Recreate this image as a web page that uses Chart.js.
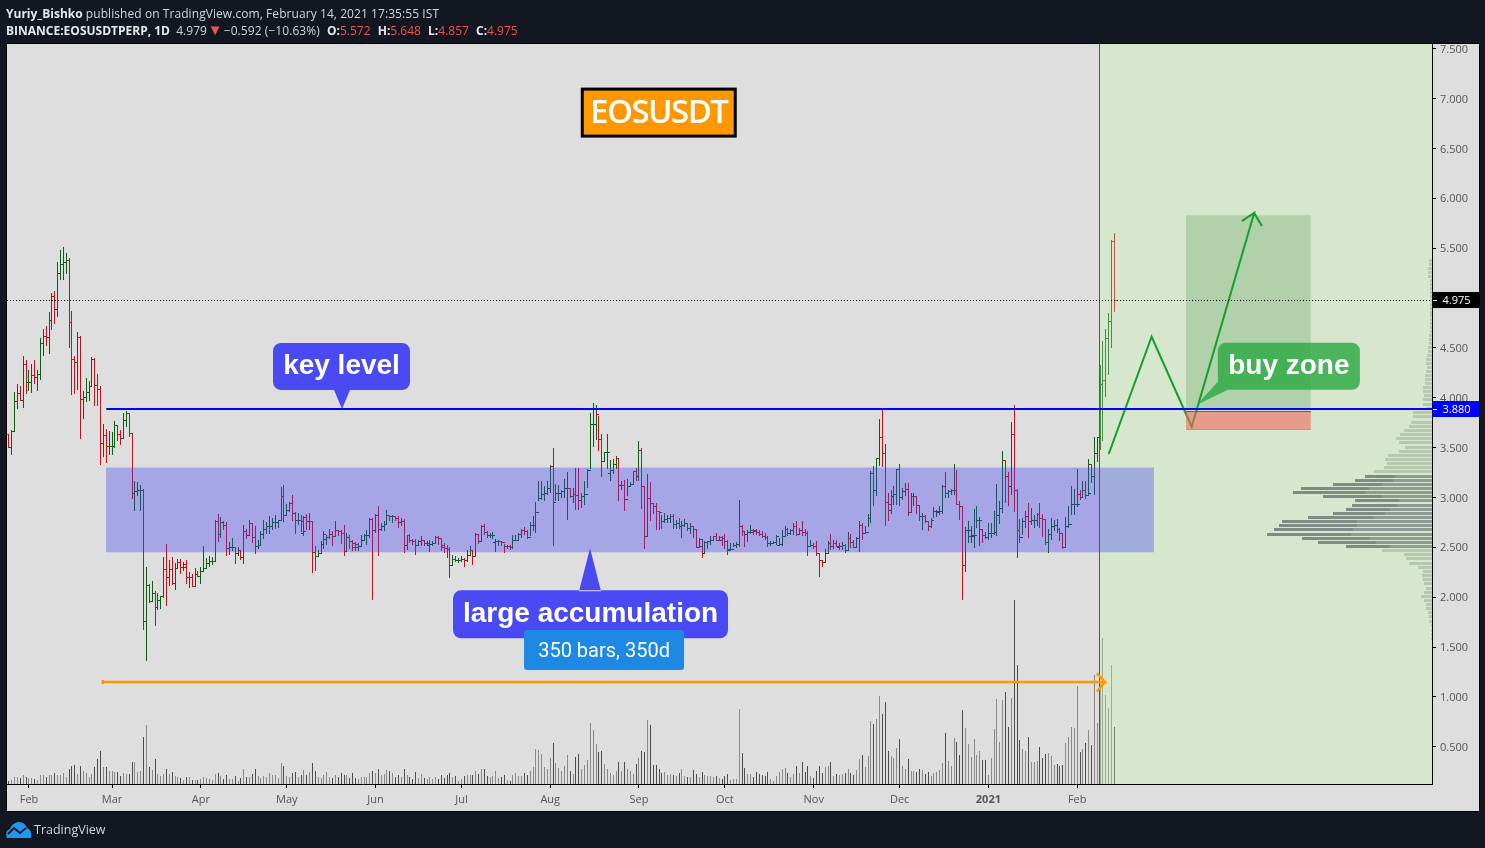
<!DOCTYPE html>
<html>
<head>
<meta charset="utf-8">
<title>EOSUSDT</title>
<script src="https://cdn.jsdelivr.net/npm/chart.js@4/dist/chart.umd.min.js"></script>
<style>
  html, body { margin: 0; padding: 0; background: #131722; width: 1485px; height: 848px; overflow: hidden; }
  canvas { position: absolute; left: 0; top: 0; }
  .txt { position: absolute; left: 6px; color: #d1d4dc; font: 12px "Open Sans", sans-serif; white-space: nowrap; }
  .txt b { color: #e6e8ee; font-weight: 700; }
  .txt i { font-style: normal; color: #ef5350; }
  .txt i.arrow { font-size: 15px; line-height: 12px; margin: 0 1px; }
  .txt b.lab { margin-left: 4px; }
  .txt span { letter-spacing: 0.07px; }
  #brand { left: 34px; top: 821px; font-size: 12.5px; color: #d1d4dc; }
  #logo { position: absolute; left: 6px; top: 821px; }
</style>
</head>
<body>
<canvas id="chart" width="1485" height="848"></canvas>
<div class="txt" style="top:5px"><b>Yuriy_Bishko</b> <span>published on TradingView.com, February 14, 2021 17:35:55 IST</span></div>
<div class="txt" style="top:22px"><b>BINANCE:EOSUSDTPERP, 1D</b>&nbsp; 4.979<i class="arrow">▼</i><span>−0.592 (−10.63%)</span> <b class="lab">O:</b><i>5.572</i> <b class="lab">H:</b><i>5.648</i> <b class="lab">L:</b><i>4.857</i> <b class="lab">C:</b><i>4.975</i></div>
<svg id="logo" width="26" height="17" viewBox="0 0 26 17">
  <path d="M1 17 C-1 12 1 9 4 8 C6 3 10 1 13 1 C17 1 20 4 21 7 C24 8 26 11 25 17 Z" fill="#2196f3"/>
  <path d="M2 13 L8 7 L14 12 L20 7" fill="none" stroke="#131722" stroke-width="2"/>
</svg>
<div class="txt" id="brand">TradingView</div>
<script>
// days counted from 1 Feb 2020, first bar is 25 Jan 2020
const firstDay = -7;

const highs = [
  3.63,3.68,4.06,4.14,4.12,4.42,4.38,
  4.28,4.34,4.38,4.28,4.60,4.69,4.72,4.86,5.05,5.07,
  5.36,5.48,5.51,5.45,5.40,4.87,4.42,4.66,4.62,4.07,
  4.20,4.17,4.41,4.40,4.24,4.12,3.74,3.69,3.67,3.66,
  3.77,3.73,3.68,3.85,3.87,3.84,3.64,3.17,3.15,3.12,
  3.08,2.30,2.13,2.16,2.06,2.04,2.01,2.40,2.53,2.37,
  2.40,2.34,2.38,2.38,2.35,2.37,2.25,2.23,2.29,2.26,
  2.30,2.51,2.39,2.41,2.40,2.77,2.83,2.80,2.76,2.75,
  2.55,2.59,2.50,2.50,2.47,2.72,2.68,2.77,2.74,2.71,
  2.57,2.66,2.77,2.75,2.81,2.79,2.82,2.77,3.10,3.12,
  2.93,2.95,3.02,2.85,2.84,2.82,2.81,2.83,2.84,2.76,
  2.51,2.47,2.56,2.66,2.62,2.68,2.66,2.76,2.67,2.67,
  2.72,2.64,2.62,2.57,2.55,2.54,2.62,2.63,2.67,2.79,
  2.79,2.83,2.91,2.74,2.76,2.87,2.82,2.82,2.81,2.81,
  2.79,2.78,2.62,2.63,2.58,2.58,2.57,2.61,2.57,2.56,
  2.57,2.56,2.61,2.61,2.59,2.54,2.52,2.50,2.42,2.41,
  2.39,2.41,2.39,2.47,2.51,2.47,2.64,2.63,2.72,2.73,
  2.66,2.64,2.65,2.58,2.57,2.56,2.53,2.52,2.52,2.62,
  2.62,2.64,2.68,2.70,2.67,2.75,2.81,2.95,3.17,3.16,
  3.11,3.17,3.33,3.50,3.13,3.12,3.07,3.19,3.26,3.09,
  3.09,3.30,3.30,3.04,3.16,3.29,3.85,3.95,3.93,3.82,
  3.64,3.46,3.64,3.38,3.39,3.42,3.40,3.17,3.18,3.19,
  3.15,3.27,3.30,3.57,3.50,3.11,3.24,3.15,2.94,2.94,
  2.86,2.82,2.84,2.82,2.83,2.83,2.77,2.79,2.76,2.78,
  2.74,2.74,2.71,2.67,2.59,2.58,2.56,2.56,2.61,2.61,
  2.64,2.61,2.61,2.63,2.57,2.54,2.54,2.55,2.97,2.72,
  2.66,2.67,2.72,2.68,2.68,2.67,2.66,2.64,2.61,2.56,
  2.56,2.62,2.59,2.67,2.71,2.69,2.68,2.74,2.76,2.69,
  2.76,2.68,2.66,2.57,2.54,2.56,2.44,2.37,2.48,2.56,
  2.63,2.57,2.57,2.54,2.55,2.53,2.65,2.63,2.57,2.60,
  2.76,2.74,2.71,2.83,3.27,3.32,3.40,3.79,3.88,3.54,
  3.04,3.07,3.11,3.29,3.34,3.09,3.14,3.14,3.04,3.04,
  3.00,2.91,2.84,2.82,2.76,2.79,2.90,2.87,2.91,3.12,
  3.26,3.07,3.08,3.34,3.28,2.96,2.91,2.70,2.76,2.71,
  2.88,2.91,2.80,2.68,2.65,2.74,2.74,2.86,3.13,2.96,
  3.47,3.37,3.26,3.76,3.93,3.08,2.78,2.79,2.86,2.94,
  2.89,2.82,2.84,2.94,2.83,2.78,2.68,2.79,2.77,2.78,
  2.69,2.64,2.80,2.91,3.11,3.08,3.29,3.07,3.16,3.16,
  3.39,3.34,3.61,3.61,4.33,4.57,4.69,4.85,5.58,5.648,
];
const lows = [
  3.50,3.43,3.66,3.89,3.97,3.90,4.04,
  4.07,4.05,4.14,4.07,4.18,4.42,4.52,4.44,4.68,4.74,
  4.81,5.18,5.18,5.24,4.50,4.03,4.04,4.08,3.59,3.79,
  3.96,3.97,4.11,3.92,3.92,3.33,3.41,3.35,3.43,3.43,
  3.50,3.57,3.53,3.60,3.71,3.61,2.98,2.86,3.01,2.86,
  1.67,1.36,1.94,1.95,1.71,1.87,1.88,1.99,1.91,2.11,
  2.12,2.07,2.29,2.23,2.26,2.13,2.09,2.10,2.11,2.20,
  2.13,2.26,2.28,2.30,2.32,2.35,2.55,2.59,2.67,2.41,
  2.42,2.46,2.33,2.41,2.37,2.33,2.58,2.62,2.54,2.43,
  2.48,2.51,2.58,2.63,2.63,2.67,2.68,2.69,2.77,2.75,
  2.82,2.85,2.76,2.63,2.72,2.65,2.61,2.67,2.67,2.24,
  2.26,2.40,2.44,2.48,2.52,2.58,2.51,2.61,2.61,2.53,
  2.41,2.45,2.48,2.46,2.46,2.46,2.51,2.57,2.52,2.59,
  1.97,2.64,2.41,2.66,2.66,2.72,2.76,2.74,2.76,2.69,
  2.71,2.44,2.47,2.54,2.52,2.42,2.52,2.51,2.51,2.51,
  2.45,2.51,2.53,2.52,2.46,2.44,2.39,2.19,2.31,2.35,
  2.34,2.35,2.30,2.35,2.41,2.32,2.41,2.53,2.55,2.62,
  2.59,2.59,2.58,2.45,2.51,2.51,2.44,2.48,2.47,2.48,
  2.56,2.57,2.59,2.62,2.58,2.61,2.66,2.64,2.96,2.97,
  2.96,3.02,3.04,2.51,2.96,2.96,2.99,2.99,2.77,2.99,
  2.94,2.87,2.87,2.89,2.92,3.09,3.29,3.51,3.58,3.47,
  3.21,3.36,3.29,3.17,3.24,3.29,2.96,3.07,2.86,3.01,
  3.11,3.13,3.16,3.16,2.88,2.48,2.61,2.76,2.83,2.67,
  2.67,2.68,2.74,2.74,2.74,2.68,2.68,2.68,2.59,2.70,
  2.66,2.63,2.59,2.50,2.50,2.39,2.44,2.48,2.52,2.56,
  2.56,2.56,2.51,2.48,2.42,2.48,2.50,2.49,2.50,2.61,
  2.50,2.55,2.63,2.62,2.62,2.61,2.59,2.57,2.50,2.51,
  2.53,2.52,2.51,2.51,2.61,2.61,2.62,2.62,2.61,2.62,
  2.61,2.61,2.41,2.51,2.48,2.41,2.20,2.30,2.35,2.44,
  2.47,2.48,2.50,2.47,2.47,2.44,2.47,2.49,2.49,2.50,
  2.45,2.57,2.63,2.70,2.74,2.91,3.01,3.32,3.31,2.71,
  2.76,2.83,2.92,2.92,2.91,2.97,3.01,2.81,2.84,2.91,
  2.83,2.76,2.67,2.74,2.66,2.69,2.79,2.80,2.82,2.83,
  2.99,2.99,3.02,3.02,2.92,2.77,1.97,2.25,2.54,2.54,
  2.49,2.69,2.51,2.54,2.58,2.57,2.59,2.62,2.61,2.73,
  2.84,2.94,2.91,3.02,2.85,2.39,2.54,2.62,2.69,2.59,
  2.72,2.69,2.71,2.69,2.60,2.52,2.44,2.57,2.66,2.64,
  2.56,2.48,2.49,2.69,2.82,2.82,2.90,2.97,2.99,2.98,
  3.02,3.14,3.02,3.36,3.48,3.57,4.01,4.23,4.50,4.857,
];
const opens = [
  3.63,3.50,3.66,3.96,4.04,3.97,4.33,
  4.15,4.15,4.22,4.20,4.23,4.54,4.61,4.60,4.77,5.02,
  4.89,5.25,5.34,5.36,5.38,4.75,4.38,4.35,4.60,3.98,
  4.00,4.05,4.11,4.38,4.12,4.08,3.54,3.62,3.51,3.51,
  3.51,3.72,3.63,3.59,3.77,3.84,3.64,3.04,3.06,3.07,
  3.07,1.76,2.12,1.96,2.04,1.90,1.97,2.01,2.28,2.20,
  2.28,2.14,2.29,2.35,2.30,2.33,2.20,2.20,2.11,2.23,
  2.21,2.26,2.29,2.34,2.36,2.36,2.76,2.63,2.75,2.72,
  2.49,2.50,2.50,2.44,2.47,2.40,2.66,2.62,2.74,2.60,
  2.51,2.52,2.63,2.68,2.71,2.71,2.75,2.75,2.77,3.01,
  2.82,2.87,2.94,2.84,2.77,2.77,2.64,2.80,2.76,2.76,
  2.45,2.41,2.44,2.53,2.58,2.60,2.63,2.61,2.67,2.66,
  2.64,2.46,2.60,2.56,2.54,2.50,2.51,2.57,2.62,2.62,
  2.78,2.67,2.82,2.68,2.71,2.73,2.82,2.81,2.81,2.79,
  2.75,2.76,2.52,2.62,2.57,2.56,2.52,2.56,2.57,2.54,
  2.52,2.53,2.54,2.60,2.59,2.52,2.49,2.48,2.32,2.38,
  2.37,2.37,2.38,2.37,2.42,2.47,2.41,2.63,2.56,2.71,
  2.65,2.62,2.62,2.55,2.56,2.56,2.55,2.51,2.51,2.50,
  2.57,2.57,2.63,2.67,2.66,2.60,2.72,2.72,2.85,2.99,
  3.03,3.04,3.09,3.31,2.95,3.04,3.04,3.06,3.09,3.09,
  3.01,3.03,3.02,2.97,3.01,3.03,3.27,3.73,3.73,3.83,
  3.58,3.36,3.45,3.24,3.27,3.33,3.39,3.12,3.12,2.98,
  3.11,3.13,3.26,3.21,3.47,3.11,2.61,2.99,2.94,2.91,
  2.86,2.85,2.76,2.78,2.79,2.81,2.73,2.74,2.71,2.72,
  2.74,2.69,2.71,2.68,2.50,2.58,2.44,2.55,2.56,2.57,
  2.61,2.57,2.60,2.59,2.56,2.47,2.48,2.52,2.53,2.71,
  2.66,2.63,2.65,2.67,2.67,2.65,2.63,2.61,2.60,2.54,
  2.54,2.55,2.52,2.53,2.61,2.68,2.64,2.67,2.71,2.63,
  2.67,2.65,2.64,2.51,2.52,2.51,2.44,2.37,2.35,2.44,
  2.54,2.51,2.54,2.50,2.51,2.52,2.47,2.59,2.55,2.50,
  2.59,2.72,2.64,2.65,2.79,3.24,3.07,3.39,3.60,3.44,
  2.95,2.87,3.01,3.03,3.28,3.00,3.06,3.08,2.85,3.01,
  3.01,2.92,2.81,2.81,2.76,2.71,2.77,2.86,2.85,2.86,
  3.11,3.04,3.06,3.07,3.07,2.93,2.91,2.32,2.67,2.61,
  2.61,2.62,2.77,2.68,2.62,2.60,2.64,2.64,2.65,2.82,
  2.89,3.37,3.21,3.11,3.63,3.07,2.67,2.60,2.76,2.81,
  2.76,2.77,2.77,2.83,2.79,2.78,2.55,2.63,2.71,2.72,
  2.68,2.64,2.50,2.71,2.73,2.93,2.93,3.03,3.00,3.07,
  3.02,3.33,3.21,3.44,3.60,4.13,4.17,4.59,4.76,5.572,
];
const closes = [
  3.50,3.66,3.96,4.04,3.97,4.33,4.15,
  4.15,4.22,4.20,4.23,4.54,4.61,4.60,4.77,5.02,4.89,
  5.25,5.34,5.36,5.38,4.75,4.38,4.35,4.60,3.98,4.00,
  4.05,4.11,4.38,4.12,4.08,3.54,3.62,3.51,3.51,3.51,
  3.72,3.63,3.59,3.77,3.84,3.64,3.04,3.06,3.07,3.07,
  1.76,2.12,1.96,2.04,1.90,1.97,2.01,2.28,2.20,2.28,
  2.14,2.29,2.35,2.30,2.30,2.20,2.20,2.11,2.23,2.21,
  2.26,2.29,2.34,2.36,2.36,2.76,2.63,2.75,2.72,2.49,
  2.50,2.50,2.44,2.47,2.40,2.66,2.62,2.74,2.60,2.51,
  2.52,2.63,2.68,2.71,2.71,2.75,2.75,2.77,3.01,2.82,
  2.87,2.94,2.84,2.77,2.77,2.76,2.66,2.76,2.76,2.45,
  2.41,2.44,2.53,2.63,2.60,2.63,2.61,2.67,2.66,2.64,
  2.46,2.60,2.56,2.50,2.53,2.51,2.57,2.62,2.62,2.78,
  2.67,2.82,2.68,2.71,2.73,2.82,2.81,2.81,2.79,2.75,
  2.76,2.52,2.62,2.57,2.56,2.52,2.56,2.57,2.54,2.54,
  2.53,2.54,2.60,2.59,2.50,2.49,2.48,2.32,2.38,2.37,
  2.37,2.38,2.37,2.42,2.47,2.41,2.63,2.56,2.71,2.65,
  2.62,2.62,2.62,2.56,2.56,2.55,2.51,2.51,2.50,2.57,
  2.57,2.63,2.67,2.66,2.60,2.72,2.72,2.85,2.99,3.03,
  3.04,3.09,3.31,2.95,3.04,3.04,3.06,3.09,3.09,3.01,
  3.03,3.02,2.97,3.01,3.03,3.27,3.73,3.73,3.83,3.58,
  3.36,3.45,3.45,3.27,3.33,3.39,3.12,3.12,2.98,3.11,
  3.13,3.26,3.21,3.47,3.11,2.61,2.99,2.94,2.91,2.86,
  2.85,2.76,2.78,2.79,2.81,2.73,2.74,2.71,2.72,2.74,
  2.69,2.71,2.68,2.50,2.51,2.44,2.55,2.56,2.57,2.61,
  2.57,2.57,2.59,2.56,2.48,2.48,2.52,2.53,2.71,2.66,
  2.63,2.65,2.65,2.66,2.65,2.63,2.61,2.60,2.54,2.54,
  2.55,2.61,2.53,2.61,2.68,2.64,2.67,2.71,2.63,2.67,
  2.65,2.64,2.51,2.52,2.51,2.44,2.37,2.35,2.44,2.54,
  2.51,2.54,2.51,2.51,2.52,2.47,2.59,2.55,2.50,2.59,
  2.72,2.64,2.65,2.79,3.24,3.07,3.39,3.60,3.44,2.95,
  2.93,3.01,3.03,3.28,3.00,3.06,3.08,2.85,3.01,3.01,
  2.92,2.81,2.81,2.76,2.71,2.77,2.86,2.86,2.86,3.11,
  3.04,3.06,3.07,3.07,2.93,2.91,2.32,2.67,2.67,2.62,
  2.62,2.77,2.77,2.62,2.60,2.64,2.64,2.65,2.82,2.89,
  3.37,3.21,3.11,3.63,3.07,2.67,2.60,2.76,2.81,2.76,
  2.77,2.77,2.83,2.79,2.78,2.55,2.63,2.71,2.72,2.68,
  2.64,2.50,2.71,2.73,2.93,2.93,2.93,3.00,3.07,3.02,
  3.04,3.21,3.44,3.60,4.13,4.17,4.59,4.76,5.57,4.975,
];
const volumes = [
  10,12,22,22,18,28,22,
  18,18,14,12,28,28,22,26,28,32,
  26,28,32,22,46,55,58,30,55,40,
  32,22,30,52,76,100,52,52,38,40,
  35,35,25,34,30,30,65,67,35,40,
  142,178,52,42,75,30,25,30,46,30,
  35,25,22,18,12,22,22,13,12,12,
  14,22,18,16,12,30,32,24,15,28,
  14,14,24,10,18,46,22,22,30,46,
  24,18,25,22,34,28,27,18,64,55,
  25,22,32,35,22,28,42,28,35,62,
  40,22,18,28,36,22,18,28,22,32,
  28,26,18,32,18,14,22,20,22,32,
  40,34,46,28,30,42,38,32,22,26,
  20,46,26,20,14,36,18,30,18,14,
  20,14,20,14,26,18,26,32,22,24,
  10,14,24,26,28,26,38,30,44,46,
  25,22,24,38,18,22,26,12,10,26,
  32,24,24,32,28,40,52,105,102,90,
  52,45,78,123,62,48,38,55,88,38,
  30,80,90,45,58,72,184,162,120,95,
  100,60,45,32,28,38,65,40,65,45,
  38,30,60,78,98,95,192,178,58,58,
  45,33,35,28,30,28,25,32,45,25,
  22,22,42,30,20,35,28,25,25,22,
  25,18,16,25,30,12,16,16,226,94,
  48,30,30,22,35,30,28,25,36,14,
  10,25,35,46,48,32,22,30,55,33,
  66,35,54,25,18,40,54,32,50,55,
  65,25,30,28,30,33,45,32,28,42,
  76,88,50,85,190,181,195,265,211,247,
  100,85,78,109,136,55,46,76,40,40,
  35,46,43,30,37,23,33,37,43,63,
  153,70,53,139,127,88,223,169,121,80,
  136,88,100,73,73,28,79,166,255,127,
  253,277,172,259,552,358,133,106,100,142,
  67,67,70,112,79,91,94,85,58,61,
  53,58,124,142,172,169,295,97,106,124,
  163,118,328,184,300,438,268,229,358,172,
];

// volume profile, rows on the right edge
const profilePrices = [
  5.38,5.34,5.30,5.26,5.22,5.18,5.14,5.10,5.06,5.02,4.98,4.94,4.90,4.86,4.82,4.78,4.74,4.70,
  4.66,4.62,4.58,4.54,4.50,4.46,4.42,4.38,4.34,4.30,4.26,4.22,4.18,4.14,4.10,4.06,4.02,3.98,
  3.93,3.89,3.85,3.81,3.75,3.71,3.67,3.63,3.59,3.55,3.50,3.46,3.42,3.38,3.34,3.30,3.26,
  3.21,3.17,3.13,3.09,3.05,3.01,2.97,2.92,2.88,2.84,2.80,2.76,2.72,2.68,2.63,2.59,2.55,2.51,
  2.47,2.43,2.39,2.34,2.30,2.26,2.22,2.18,2.14,2.09,2.05,2.01,1.97,1.93,1.89,1.85,1.81,1.76,1.72,1.67,1.63,1.59,
];
const profileTotal = [
  9,9,12,12,12,6,6,6,6,6,6,6,6,6,6,6,6,6,
  6,9,9,9,12,12,15,18,18,15,18,21,21,21,27,27,24,27,
  27,16,57,57,63,69,84,96,108,99,81,99,132,141,135,144,174,
  201,231,297,393,417,327,231,240,258,297,372,450,459,474,495,390,342,258,
  150,84,78,69,42,27,30,27,24,18,24,33,24,18,18,12,9,9,3,3,3,3,
];
const profileInner = [
  0,0,0,0,0,0,0,0,0,0,0,0,0,0,0,0,0,0,
  0,0,0,0,0,0,0,0,0,0,0,0,0,0,0,0,0,0,
  0,0,0,0,0,0,0,0,0,0,0,0,0,0,0,0,0,
  111,117,150,189,201,150,99,105,126,141,177,225,225,237,243,189,168,129,
  0,0,0,0,0,0,0,0,0,0,0,0,0,0,0,0,0,0,0,0,0,0,
];

// drawings, in days and prices
const monthDays = [0,29,60,90,121,151,182,213,243,274,304,335,366];
const monthLabels = ['Feb','Mar','Apr','May','Jun','Jul','Aug','Sep','Oct','Nov','Dec','2021','Feb'];
const lastPrice = 4.975;
const keyLevel = 3.88;
const accumulationDays = [26.9, 392.8];
const accumulationPrices = [2.45, 3.30];
const forecastStart = 373.8;
const targetDays = [404.0, 447.6];
const targetPrices = [3.886, 5.83];
const stopPrices = [3.686, 3.867];
const pathDays = [377.0, 392.0, 406.0, 427.8, 423.5, 427.8, 430.5];
const pathPrices = [3.435, 4.612, 3.709, 5.853, 5.772, 5.853, 5.722];
const rangeDays = [25.8, 25.8, 25.8, 375.7, 372.9, 375.7, 372.9];
const rangePrices = [1.169, 1.129, 1.149, 1.149, 1.235, 1.149, 1.054];

const xMin = -7.68;
const xMax = 489.9;
const yMax = 7.548;
const yMin = 0.126;
const upColor = '#0d5f14';
const downColor = '#c8101a';

const days = closes.map((c, i) => firstDay + i);
const isUp = closes.map((c, i) => c >= opens[i]);

function pairs(xs, ys) {
  return xs.map((x, i) => ({x: x, y: ys[i]}));
}

function line(data, color, width, order, extra) {
  return Object.assign({
    type: 'line', data: data, borderColor: color, borderWidth: width,
    pointRadius: 0, fill: false, tension: 0, order: order,
  }, extra);
}

function zone(xs, ys, color, order, extra) {
  return Object.assign({
    type: 'line', data: xs.map((x) => ({x: x, y: ys[0]})), borderWidth: 0, pointRadius: 0,
    fill: {value: ys[1]}, backgroundColor: color, order: order,
  }, extra);
}

function ticks(prices, color, role) {
  return {
    type: 'line', role: role, data: pairs(days, prices), showLine: false, order: 90,
    pointStyle: 'line', pointRadius: 1.5, pointBorderWidth: 1, pointBorderColor: color,
  };
}

const barColors = isUp.map((up) => up ? upColor : downColor);

const datasets = [
  line(pairs(rangeDays, rangePrices), '#ff9800', 2.5, 20),
  line(pairs([27, xMax], [keyLevel, keyLevel]), '#0000ff', 2, 40, {crisp: true}),
  line(pairs([xMin, xMax], [lastPrice, lastPrice]), '#000000', 1, 45, {borderDash: [1, 2], crisp: true}),
  zone(targetDays, stopPrices, 'rgba(239,106,93,0.6)', 50),
  line(pairs(targetDays, [stopPrices[1], stopPrices[1]]), '#4f6b4c', 1, 49, {crisp: true}),
  line(pairs(targetDays, [stopPrices[0], stopPrices[0]]), '#ee8170', 1, 49, {crisp: true}),
  line(pairs(pathDays, pathPrices), '#15a02e', 2, 52),
  zone(targetDays, targetPrices, 'rgba(119,178,118,0.4)', 53),
  {
    type: 'bar', role: 'profile', indexAxis: 'y', xAxisID: 'xProfile', yAxisID: 'y', order: 60,
    data: pairs(profileInner, profilePrices), backgroundColor: '#8f9a94', barThickness: 3, inflateAmount: 0,
  },
  {
    type: 'bar', role: 'profile', indexAxis: 'y', xAxisID: 'xProfile', yAxisID: 'y', order: 61,
    data: pairs(profileTotal, profilePrices), barThickness: 3, inflateAmount: 0,
    backgroundColor: profileInner.map((v) => v > 0 ? '#808a85' : '#b6c8b0'),
  },
  line(pairs([forecastStart, forecastStart], [yMin, yMax]), '#2e7030', 1, 65, {crisp: 'x'}),
  zone(accumulationDays, accumulationPrices, 'rgba(62,62,250,0.35)', 70),
  zone([forecastStart, xMax], [yMin, yMax], 'rgba(195,252,165,0.3)', 80),
  ticks(opens, barColors, 'open'),
  ticks(closes, barColors, 'close'),
  {
    type: 'bar', role: 'stem', order: 91, backgroundColor: barColors, barThickness: 1, inflateAmount: 0,
    data: days.map((d, i) => ({x: d, y: [lows[i], highs[i]]})),
  },
  {
    type: 'bar', role: 'stem', order: 100, yAxisID: 'yVolume', barThickness: 1, inflateAmount: 0,
    data: pairs(days, volumes), backgroundColor: isUp.map((up) => up ? '#8a8a8a' : '#4d4d4d'),
  },
];

// snap the thin marks to whole pixels, the reference has no blur on them
const snapMarks = {
  id: 'snapMarks',
  afterDatasetsUpdate(chart) {
    chart.data.datasets.forEach((ds, n) => {
      const els = chart.getDatasetMeta(n).data;
      els.forEach((el) => {
        if (ds.role === 'stem') {
          el.x = Math.floor(el.x) + 0.5;
          el.y = Math.round(el.y);
          el.base = Math.round(el.base);
        } else if (ds.role === 'profile') {
          el.y = Math.floor(el.y) + 0.5;
        } else if (ds.role === 'open' || ds.role === 'close') {
          el.x = Math.floor(el.x) + (ds.role === 'open' ? -0.5 : 1.5);
          el.y = Math.floor(el.y) + 0.5;
        } else if (ds.crisp === 'x') {
          el.x = Math.floor(el.x) + 0.5;
        } else if (ds.crisp) {
          el.y = ds.borderWidth % 2 ? Math.floor(el.y) + 0.5 : Math.floor(el.y);
        }
      });
    });
  },
};

const panes = {
  id: 'panes',
  beforeDraw(chart) {
    const ctx = chart.ctx;
    const a = chart.chartArea;
    const right = chart.scales.y.right;
    const bottom = chart.scales.x.bottom;
    ctx.save();
    ctx.fillStyle = '#dedede';
    ctx.fillRect(a.left, a.top, right - a.left, bottom - a.top);
    ctx.strokeStyle = '#000000';
    ctx.lineWidth = 1;
    ctx.strokeRect(a.left - 0.5, a.top - 0.5, right - a.left + 1, bottom - a.top + 1);
    ctx.restore();
  },
};

function roundBox(ctx, x, y, w, h, r) {
  ctx.beginPath();
  ctx.roundRect(x, y, w, h, r);
  ctx.fill();
}

// text boxes, each one hangs on a day and a price
const callouts = [
  {text: 'key level', day: 109.3, price: 3.887, dx: -69, dy: -66, w: 137, h: 47, color: '#4a4af4', tail: [[-8, -19], [8, -19]]},
  {text: 'large accumulation', day: 195.9, price: 2.49, dx: -137, dy: 42, w: 275, h: 48, color: '#4a4af4', tail: [[-11, 42], [11, 42]]},
  {text: 'buy zone', day: 407.8, price: 3.93, dx: 21, dy: -62, w: 142, h: 47, color: 'rgba(50,172,72,0.85)', tail: [[21, -23], [31, -15]]},
];

const labels = {
  id: 'labels',
  afterDraw(chart) {
    const ctx = chart.ctx;
    const x = chart.scales.x;
    const y = chart.scales.y;
    ctx.save();
    ctx.textAlign = 'center';
    ctx.textBaseline = 'middle';

    callouts.forEach((c) => {
      const px = x.getPixelForValue(c.day);
      const py = y.getPixelForValue(c.price);
      ctx.fillStyle = c.color;
      ctx.beginPath();
      ctx.roundRect(px + c.dx, py + c.dy, c.w, c.h, 8);
      ctx.moveTo(px, py);
      ctx.lineTo(px + c.tail[0][0], py + (c.dy > 0 ? c.dy + 1 : c.tail[0][1]));
      ctx.lineTo(px + c.tail[1][0], py + (c.dy > 0 ? c.dy + 1 : c.tail[1][1]));
      ctx.closePath();
      ctx.fill();
      ctx.fillStyle = '#ffffff';
      ctx.font = 'bold 28px "Liberation Sans", Arial, sans-serif';
      ctx.fillText(c.text, px + c.dx + c.w / 2, py + c.dy + c.h / 2);
    });

    // range label over the orange arrow
    const rx = x.getPixelForValue(200.8);
    const ry = y.getPixelForValue(1.47);
    ctx.fillStyle = '#1e88e5';
    roundBox(ctx, rx - 80, ry - 20, 160, 40, 3);
    ctx.fillStyle = '#ffffff';
    ctx.font = '20px Roboto, sans-serif';
    ctx.fillText('350 bars, 350d', rx, ry + 2);

    // title
    const tx = x.getPixelForValue(219.9);
    const ty = y.getPixelForValue(6.86);
    ctx.fillStyle = '#000000';
    ctx.fillRect(tx - 78, ty - 25, 156, 50);
    ctx.fillStyle = '#ff9800';
    ctx.fillRect(tx - 75, ty - 22, 150, 44);
    ctx.fillStyle = '#ffffff';
    ctx.font = '600 33px "Open Sans", sans-serif';
    ctx.letterSpacing = '-1.5px';
    ctx.fillText('EOSUSDT', tx, ty + 1);
    ctx.letterSpacing = '0px';

    // tags on the price axis
    [[lastPrice, '#000000'], [keyLevel, '#0000ff']].forEach(([price, color]) => {
      const py = Math.floor(y.getPixelForValue(price));
      ctx.fillStyle = color;
      ctx.fillRect(y.left + 0.5, py - 8, y.right - y.left - 0.5, 16);
      ctx.fillStyle = '#ffffff';
      ctx.fillRect(y.left + 1, py, 4, 1);
      ctx.font = '11px "Open Sans", sans-serif';
      ctx.fillText(price.toFixed(3), (y.left + y.right) / 2 + 1, py + 1);
    });
    ctx.restore();
  },
};

new Chart(document.getElementById('chart'), {
  type: 'bar',
  data: {datasets: datasets},
  plugins: [panes, snapMarks, labels],
  options: {
    responsive: false,
    animation: false,
    events: [],
    layout: {padding: {left: 7, top: 44, right: 6, bottom: 37}},
    plugins: {legend: {display: false}, tooltip: {enabled: false}, title: {display: false}},
    datasets: {bar: {grouped: false}},
    scales: {
      x: {
        type: 'linear', position: 'bottom', min: xMin, max: xMax, offset: false,
        afterBuildTicks(scale) {
          scale.ticks = monthDays.map((d) => ({value: d}));
        },
        afterFit(scale) {
          scale.height = 27;
        },
        ticks: {
          autoSkip: false, maxRotation: 0, padding: 5, color: '#555555',
          font: (ctx) => ({family: '"Open Sans", sans-serif', size: 11, weight: ctx.index === 11 ? 'bold' : 'normal'}),
          callback: (value, i) => monthLabels[i],
        },
        grid: {drawOnChartArea: false, tickLength: 4, tickColor: '#000000', offset: false},
        border: {color: '#000000'},
      },
      y: {
        type: 'linear', position: 'right', min: yMin, max: yMax, offset: false,
        afterFit(scale) {
          scale.width = 47;
        },
        ticks: {
          stepSize: 0.5, includeBounds: false, padding: 4, labelOffset: 1, color: '#555555',
          font: {family: '"Open Sans", sans-serif', size: 11},
          callback: (value) => value.toFixed(3),
        },
        grid: {drawOnChartArea: false, tickLength: 4, tickColor: '#000000', offset: false},
        border: {color: '#000000'},
      },
      yVolume: {type: 'linear', display: false, min: 0, max: 2220, position: 'left'},
      xProfile: {
        type: 'linear', display: false, reverse: true, min: 0, max: 4275, position: 'top', offset: false,
        grid: {offset: false},
      },
    },
  },
});
</script>
</body>
</html>
